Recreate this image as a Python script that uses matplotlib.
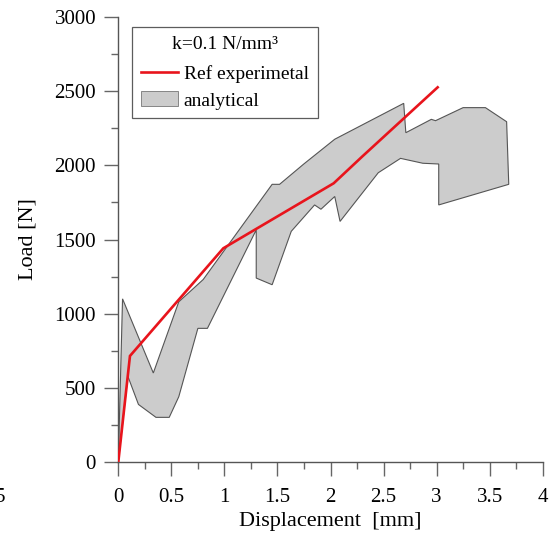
import matplotlib
matplotlib.use("Agg")
import matplotlib.pyplot as plt
from matplotlib.patches import Polygon, Patch
from matplotlib.lines import Line2D
from matplotlib.ticker import MultipleLocator

plt.rcParams['font.family'] = ['Liberation Serif', 'DejaVu Serif']
plt.rcParams['mathtext.fontset'] = 'stix'

# Experimental reference curve
ref_disp = [0.0, 0.11, 0.99, 2.03, 2.30, 3.01]
ref_load = [0, 715, 1441, 1879, 2060, 2526]

# Analytical envelope (outline of the shaded band)
ana_disp = [0.0, 0.04, 0.33, 0.57, 0.80, 1.45, 1.52, 1.75, 2.04, 2.69, 2.71,
            2.95, 2.99, 3.25, 3.46, 3.66, 3.68, 3.02, 3.02, 2.87, 2.66, 2.45,
            2.09, 2.04, 1.91, 1.85, 1.63, 1.45, 1.30, 1.30, 0.84, 0.75, 0.57,
            0.48, 0.355, 0.19, 0.09]
ana_load = [0, 1100, 600, 1080, 1230, 1872, 1872, 2010, 2176, 2418, 2220,
            2310, 2301, 2389, 2389, 2294, 1872, 1733, 2009, 2014, 2047, 1950,
            1622, 1790, 1704, 1733, 1555, 1195, 1240, 1565, 901, 901, 440,
            301, 301, 388, 578]

xticks = [0, 0.5, 1, 1.5, 2, 2.5, 3, 3.5, 4]
xtick_labels = ['0', '0.5', '1', '1.5', '2', '2.5', '3', '3.5', '4']
yticks = [0, 500, 1000, 1500, 2000, 2500, 3000]

fig = plt.figure(figsize=(5.51, 5.35), dpi=100)
ax = fig.add_axes([118.3 / 551, 1 - 462 / 535, (542.7 - 118.3) / 551, (462 - 17) / 535])

poly = Polygon(list(zip(ana_disp, ana_load)), closed=True,
               facecolor='#cccccc', edgecolor='#555555', linewidth=0.8, zorder=2)
ax.add_patch(poly)
ax.plot(ref_disp, ref_load, color='#e8141c', linewidth=1.9, zorder=3,
        solid_joinstyle='miter')

ax.set_xlim(0, 4)
ax.set_ylim(0, 3000)
ax.set_xticks(xticks)
ax.set_xticklabels(xtick_labels)
ax.set_yticks(yticks)
ax.xaxis.set_minor_locator(MultipleLocator(0.25))
ax.yaxis.set_minor_locator(MultipleLocator(250))

for s in ['top', 'right']:
    ax.spines[s].set_visible(False)
for s in ['left', 'bottom']:
    ax.spines[s].set_color('#555555')
    ax.spines[s].set_linewidth(1.0)

ax.tick_params(axis='both', which='major', direction='out', length=10,
               width=1.0, color='#666666', labelsize=15)
ax.tick_params(axis='both', which='minor', direction='out', length=5,
               width=1.0, color='#666666')
ax.tick_params(axis='x', which='major', pad=9)
ax.tick_params(axis='y', which='major', pad=6)

ax.set_xlabel('Displacement  [mm]', fontsize=16, labelpad=3)
ax.set_ylabel('Load [N]', fontsize=16, labelpad=12)

handles = [Line2D([0], [0], color='#e8141c', linewidth=1.9),
           Patch(facecolor='#cccccc', edgecolor='#777777', linewidth=0.6)]
leg = ax.legend(handles, ['Ref experimetal', 'analytical'],
                title='k=0.1 N/mm³', title_fontsize=14, fontsize=14,
                loc='upper left', bbox_to_anchor=(0.033, 0.978),
                borderaxespad=0, frameon=True, fancybox=False,
                handlelength=1.9, handleheight=0.8, handletextpad=0.3,
                borderpad=0.45, labelspacing=0.42)
leg.get_frame().set_edgecolor('#333333')
leg.get_frame().set_linewidth(0.9)
leg._legend_box.sep = 9

fig.text(0.009, 1 - 497 / 535, '5', fontsize=15, ha='right', va='center')

fig.savefig('out.png', dpi=100)
